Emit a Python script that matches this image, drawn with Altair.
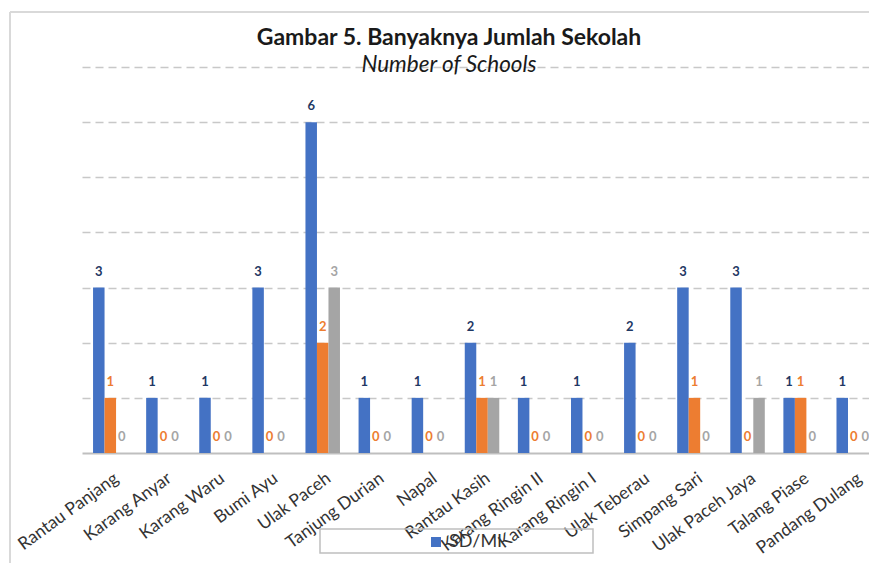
import altair as alt
import pandas as pd

categories = ["Rantau Panjang", "Karang Anyar", "Karang Waru", "Bumi Ayu", "Ulak Paceh",
              "Tanjung Durian", "Napal", "Rantau Kasih", "Karang Ringin II", "Karang Ringin I",
              "Ulak Teberau", "Simpang Sari", "Ulak Paceh Jaya", "Talang Piase", "Pandang Dulang"]
series = ["SD/MI", "SMP/MTs", "SMA/MA"]
sd_mi = [3, 1, 1, 3, 6, 1, 1, 2, 1, 1, 2, 3, 3, 1, 1]
smp_mts = [1, 0, 0, 0, 2, 0, 0, 1, 0, 0, 0, 1, 0, 1, 0]
sma_ma = [0, 0, 0, 0, 3, 0, 0, 1, 0, 0, 0, 0, 1, 0, 0]
bar_colors = ["#4472C4", "#ED7D31", "#A5A5A5"]
label_colors = ["#1F3864", "#ED7D31", "#A5A5A5"]
title_text = "Gambar 5. Banyaknya Jumlah Sekolah"
subtitle_text = "Number of Schools"

rows = []
for s, vals, lc in zip(series, [sd_mi, smp_mts, sma_ma], label_colors):
    for c, v in zip(categories, vals):
        rows.append({"desa": c, "series": s, "value": v, "lc": lc})
df = pd.DataFrame(rows)

FONT = "Lato"
W, H = 787, 386

x_enc = alt.X("desa:N", sort=categories,
              scale=alt.Scale(paddingInner=0.35, paddingOuter=0.104, align=1, range=[0, 789]),
              axis=alt.Axis(title=None, labelAngle=-36, labelAlign="right", labelBaseline="top",
                            labelPadding=16, labelOffset=1, labelFontSize=17.5, labelFont=FONT,
                            labelColor="#333333", ticks=False, domainColor="#bfbfbf",
                            domainWidth=2, labelLimit=300))
xo_enc = alt.XOffset("series:N", sort=series, scale=alt.Scale(paddingInner=0, paddingOuter=0))
y_enc = alt.Y("value:Q", scale=alt.Scale(domain=[0, 7], nice=False),
              axis=alt.Axis(title=None, labels=False, ticks=False, domain=False,
                            values=[1, 2, 3, 4, 5, 6, 7], gridDash=[8, 5],
                            gridColor="#c8c8c8", gridWidth=1.5))

base = alt.Chart(df)
bars = base.mark_bar().encode(
    x=x_enc, xOffset=xo_enc, y=y_enc,
    color=alt.Color("series:N", sort=series,
                    scale=alt.Scale(domain=series, range=bar_colors),
                    legend=alt.Legend(values=["SD/MI"], title=None, orient="none",
                                      legendX=345, legendY=466, direction="horizontal",
                                      symbolType="square", symbolSize=100, symbolStrokeWidth=0,
                                      labelFontSize=18, labelFont=FONT, labelColor="#333333",
                                      labelOffset=4, padding=0)))
labels = base.mark_text(dy=-16, baseline="middle", fontSize=13, fontWeight="bold", font=FONT).encode(
    x=x_enc, xOffset=xo_enc, y=y_enc, text="value:Q",
    color=alt.Color("lc:N", scale=None))

one = alt.Data(values=[{"k": 1}])
frame_v = alt.Chart(one).mark_rule(color="#d9d9d9", strokeWidth=2).encode(
    x=alt.value(-72), y=alt.value(-55), y2=alt.value(520))
frame_h = alt.Chart(one).mark_rule(color="#d9d9d9", strokeWidth=2).encode(
    x=alt.value(-72), x2=alt.value(800), y=alt.value(-55))
legend_box = alt.Chart(one).mark_rect(fill="transparent", stroke="#bfbfbf", strokeWidth=1.5).encode(
    x=alt.value(238), x2=alt.value(511), y=alt.value(462), y2=alt.value(486))
title_mark = alt.Chart(one).mark_text(text=title_text, font=FONT, fontSize=23, fontWeight="bold",
                                      color="#1a1a1a", baseline="middle", align="center").encode(
    x=alt.value(367), y=alt.value(-29))
subtitle_mark = alt.Chart(one).mark_text(text=subtitle_text, font=FONT, fontSize=22.5, fontStyle="italic",
                                         color="#1a1a1a", baseline="middle", align="center").encode(
    x=alt.value(367), y=alt.value(-2))

chart = alt.layer(frame_v, frame_h, bars, labels, legend_box, title_mark, subtitle_mark).properties(
    width=W, height=H,
    padding={"left": 74, "top": 59, "right": 0, "bottom": 110},
    autosize=alt.AutoSizeParams(type="none"),
).configure_view(stroke=None)

chart.save("out.html", embed_options={"renderer": "svg", "actions": False})
